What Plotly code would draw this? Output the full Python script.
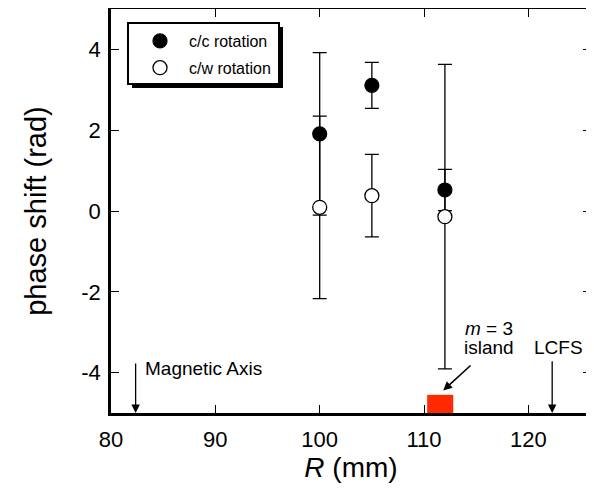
import plotly.graph_objects as go

# ---- data ----
R = [100, 105, 112]
cc_phase = [1.91, 3.11, 0.52]
cc_err = [2.01, 0.57, 0.51]
cw_phase = [0.09, 0.38, -0.14]
cw_err = [2.26, 1.02, 3.77]

island_r = [110.3, 112.8]
island_phase = [-5.0, -4.55]
magnetic_axis_r = 82.36
lcfs_r = 122.28

x_ticks = [80, 90, 100, 110, 120]
x_ticktext = ["80", "90", "100", "110", "120"]
y_ticks = [-4, -2, 0, 2, 4]
y_ticktext = ["-4", "-2", "0", "2", "4"]
x_range = [80, 126]
y_range = [-5, 5]

FONT = "Liberation Sans, Arial, sans-serif"

fig = go.Figure()
fig.add_trace(go.Scatter(
    x=R, y=cc_phase, mode="markers", name="c/c rotation", legendgroup="cc",
    marker=dict(size=14, color="black", line=dict(color="black", width=1.2)),
    error_y=dict(type="data", array=cc_err, visible=True, color="black", thickness=1.3, width=7),
))
fig.add_trace(go.Scatter(
    x=R, y=cw_phase, mode="markers", name="c/w rotation", legendgroup="cw",
    marker=dict(size=14, color="white", line=dict(color="black", width=1.3)),
    error_y=dict(type="data", array=cw_err, visible=True, color="black", thickness=1.3, width=7),
))

# island block
fig.add_shape(type="rect", xref="x", yref="y",
              x0=island_r[0], x1=island_r[1], y0=island_phase[0], y1=island_phase[1],
              fillcolor="#ff2a00", line=dict(width=0), layer="above")

# page body has an 8px margin: figure is offset by (8, 8) in the window
OFF = 8
PL, PR, PT, PB = 111, 591, 9, 413  # plot area in window pixels

def px(xp):
    return (xp - PL) / (PR - PL)
def py(yp):
    return (PB - yp) / (PB - PT)

fig.add_shape(type="rect", xref="paper", yref="paper",
              x0=px(132), x1=px(283), y0=py(88), y1=py(27),
              fillcolor="black", line=dict(width=0))
fig.add_shape(type="rect", xref="paper", yref="paper",
              x0=px(128), x1=px(279), y0=py(84), y1=py(23),
              fillcolor="white", line=dict(color="black", width=2))

ann_font = dict(family=FONT, size=19, color="black")
# arrows
fig.add_annotation(x=magnetic_axis_r, y=-5, ax=magnetic_axis_r, ay=-3.74,
                   xref="x", yref="y", axref="x", ayref="y", text="",
                   showarrow=True, arrowhead=2, arrowsize=1.3, arrowwidth=1.3, arrowcolor="black")
fig.add_annotation(x=lcfs_r, y=-5, ax=lcfs_r, ay=-3.68,
                   xref="x", yref="y", axref="x", ayref="y", text="",
                   showarrow=True, arrowhead=2, arrowsize=1.3, arrowwidth=1.3, arrowcolor="black")
fig.add_annotation(x=111.84, y=-4.44, ax=114.6, ay=-3.79,
                   xref="x", yref="y", axref="x", ayref="y", text="",
                   showarrow=True, arrowhead=2, arrowsize=1.1, arrowwidth=1.6, arrowcolor="black")
# texts
fig.add_annotation(x=83.03, y=-3.89, xref="x", yref="y", text="Magnetic Axis",
                   showarrow=False, xanchor="left", font=ann_font)
fig.add_annotation(x=116.23, y=-2.90, xref="x", yref="y", text="<i>m</i> = 3",
                   showarrow=False, font=ann_font)
fig.add_annotation(x=116.23, y=-3.39, xref="x", yref="y", text="island",
                   showarrow=False, font=ann_font)
fig.add_annotation(x=122.93, y=-3.39, xref="x", yref="y", text="LCFS",
                   showarrow=False, font=ann_font)

axis_common = dict(
    showline=True, linecolor="black", linewidth=2.5, mirror="ticks",
    ticks="inside", ticklen=8, tickwidth=1.3, tickcolor="black",
    showgrid=False, zeroline=False,
    tickfont=dict(family=FONT, size=22, color="black"),
)
fig.update_xaxes(range=x_range, tickvals=x_ticks, ticktext=x_ticktext, ticklabelstandoff=5,
                 title=dict(text="<i>R</i> (mm)", font=dict(family=FONT, size=28, color="black"), standoff=7),
                 **axis_common)
fig.update_yaxes(range=y_range, tickvals=y_ticks, ticktext=y_ticktext, ticklabelstandoff=3,
                 title=dict(text="phase shift (rad)", font=dict(family=FONT, size=29, color="black"), standoff=27),
                 **axis_common)

fig.update_layout(
    width=594 - OFF, height=501 - OFF,
    margin=dict(l=PL - OFF, r=594 - PR, t=PT - OFF, b=501 - PB, autoexpand=False),
    paper_bgcolor="white", plot_bgcolor="white",
    showlegend=True,
    legend=dict(x=px(131), y=py(24), xanchor="left", yanchor="top",
                bgcolor="rgba(0,0,0,0)", borderwidth=0,
                font=dict(family=FONT, size=16, color="black"),
                tracegroupgap=3, itemwidth=48, traceorder="grouped"),
)

fig.write_html("out.html")
